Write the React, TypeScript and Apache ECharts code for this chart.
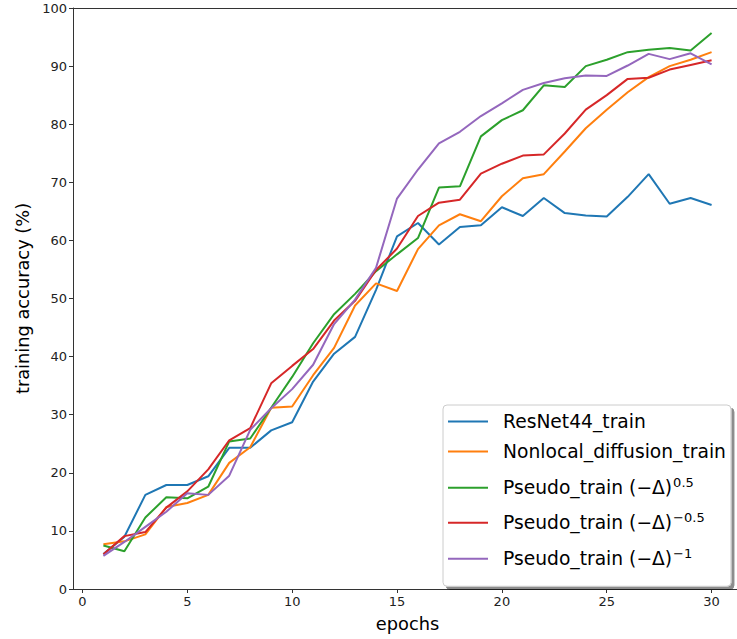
import React, { useEffect, useRef } from "react";
import * as echarts from "echarts";

const epochs = [1, 2, 3, 4, 5, 6, 7, 8, 9, 10, 11, 12, 13, 14, 15, 16, 17, 18, 19, 20, 21, 22, 23, 24, 25, 26, 27, 28, 29, 30];
const resnetTrain = [6.0, 9.0, 16.2, 17.9, 17.9, 19.4, 24.3, 24.3, 27.3, 28.7, 35.7, 40.5, 43.4, 51.5, 60.7, 63.0, 59.3, 62.3, 62.6, 65.7, 64.2, 67.3, 64.7, 64.3, 64.1, 67.5, 71.4, 66.3, 67.3, 66.1];
const nonlocalTrain = [7.7, 8.2, 9.4, 14.1, 14.8, 16.2, 21.7, 24.4, 31.2, 31.4, 36.8, 41.5, 48.8, 52.6, 51.3, 58.5, 62.6, 64.5, 63.3, 67.6, 70.7, 71.4, 75.3, 79.3, 82.5, 85.5, 88.1, 90.0, 91.1, 92.4];
const pseudoP05 = [7.5, 6.5, 12.3, 15.8, 15.6, 17.6, 25.4, 25.9, 31.2, 36.5, 42.3, 47.3, 50.8, 54.7, 57.6, 60.4, 69.1, 69.3, 77.9, 80.7, 82.4, 86.7, 86.4, 90.0, 91.1, 92.4, 92.8, 93.1, 92.7, 95.7];
const pseudoM05 = [6.0, 9.1, 9.8, 14.0, 16.8, 20.6, 25.6, 27.7, 35.4, 38.4, 41.3, 46.2, 49.6, 54.9, 58.6, 64.2, 66.5, 67.0, 71.5, 73.2, 74.6, 74.8, 78.4, 82.5, 85.0, 87.8, 88.0, 89.4, 90.2, 91.0];
const pseudoM1 = [5.7, 8.1, 10.7, 13.3, 16.5, 16.2, 19.5, 27.4, 31.1, 34.4, 38.6, 45.6, 49.8, 55.3, 67.2, 72.2, 76.7, 78.7, 81.4, 83.6, 85.9, 87.1, 87.9, 88.4, 88.3, 90.1, 92.1, 91.2, 92.2, 90.3];

const xTicks = [0, 5, 10, 15, 20, 25, 30];
const seriesNames = [
  "ResNet44_train",
  "Nonlocal_diffusion_train",
  "Pseudo_train (−Δ)^0.5",
  "Pseudo_train (−Δ)^−0.5",
  "Pseudo_train (−Δ)^−1",
];
const seriesValues = [resnetTrain, nonlocalTrain, pseudoP05, pseudoM05, pseudoM1];
const colors = ["#1f77b4", "#ff7f0e", "#2ca02c", "#d62728", "#9467bd"];

const FONT = "DejaVu Sans";

export default function App() {
  const ref = useRef<HTMLDivElement>(null);
  useEffect(() => {
    if (!ref.current) return;
    const chart = echarts.init(ref.current, null, { renderer: "svg" });
    const legendFmt: Record<string, string> = {
      [seriesNames[0]]: "{a1|ResNet44_train}",
      [seriesNames[1]]: "{a2|Nonlocal_diffusion_train}",
      [seriesNames[2]]: "{c3|Pseudo_train (−Δ)}{s3|0.5}",
      [seriesNames[3]]: "{c4|Pseudo_train (−Δ)}{s4|−0.5}",
      [seriesNames[4]]: "{c5|Pseudo_train (−Δ)}{s5|−1}",
    };
    const LF = 18.7;
    const main = (lh: number) => ({
      fontSize: LF,
      fontFamily: FONT,
      color: "#000",
      lineHeight: lh,
      verticalAlign: "middle",
      padding: [0, 0, 0, 10],
    });
    const sup = (p: number) => ({
      fontSize: 13,
      fontFamily: FONT,
      color: "#000",
      lineHeight: 15,
      verticalAlign: "top",
      padding: [p, 0, 0, 1],
    });
    const axisLineStyle = { color: "#333", width: 1 };
    chart.setOption({
      animation: false,
      backgroundColor: "#fff",
      textStyle: { fontFamily: FONT },
      grid: {
        left: 73,
        top: 8,
        right: 3,
        bottom: 50,
        show: false,
      },
      xAxis: [
        {
          type: "value",
          min: -0.45,
          max: 31.45,
          name: "epochs",
          nameLocation: "middle",
          nameGap: 25,
          nameTextStyle: { fontSize: 17.8, color: "#000", fontFamily: FONT },
          axisLine: { show: true, onZero: false, lineStyle: axisLineStyle },
          axisTick: { show: true, inside: false, length: 4, lineStyle: { color: "#333" }, customValues: xTicks },
          axisLabel: { show: true, fontSize: 13, color: "#222", margin: 6, fontFamily: FONT, customValues: xTicks },
          splitLine: { show: false },
        },
        {
          type: "value",
          position: "top",
          min: -0.45,
          max: 31.45,
          axisLine: { show: true, onZero: false, lineStyle: axisLineStyle },
          axisTick: { show: false },
          axisLabel: { show: false },
          splitLine: { show: false },
        },
      ],
      yAxis: {
        type: "value",
        min: 0,
        max: 100,
        interval: 10,
        name: "training accuracy (%)",
        nameLocation: "middle",
        nameGap: 40,
        nameTextStyle: { fontSize: 17.8, color: "#000", fontFamily: FONT },
        axisLine: { show: true, onZero: false, lineStyle: axisLineStyle },
        axisTick: { show: true, inside: false, length: 4, lineStyle: { color: "#333" } },
        axisLabel: { show: true, fontSize: 13, color: "#222", margin: 6, fontFamily: FONT },
        splitLine: { show: false },
      },
      legend: {
        orient: "vertical",
        left: 443,
        top: 405,
        padding: [7, 5, 18, 5],
        itemGap: 11,
        itemWidth: 40,
        itemHeight: 2,
        icon: "rect",
        backgroundColor: "#fff",
        borderColor: "#cccccc",
        borderWidth: 1,
        borderRadius: 4,
        shadowColor: "rgba(0,0,0,0.45)",
        shadowOffsetX: 3,
        shadowOffsetY: 3,
        shadowBlur: 1,
        data: seriesNames,
        formatter: (name: string) => legendFmt[name] || name,
        textStyle: {
          fontSize: LF,
          fontFamily: FONT,
          color: "#000",
          rich: {
            a1: main(23),
            a2: main(23),
            c3: main(31.5),
            s3: sup(3.75),
            c4: main(29),
            s4: sup(2.5),
            c5: main(31),
            s5: sup(3.5),
          },
        },
      },
      series: seriesNames.map((name, i) => ({
        name,
        type: "line",
        xAxisIndex: 0,
        data: epochs.map((e, j) => [e, seriesValues[i][j]]),
        showSymbol: false,
        symbol: "none",
        color: colors[i],
        lineStyle: { color: colors[i], width: 2 },
        itemStyle: { color: colors[i] },
        z: 2 + i,
      })),
    });
    return () => chart.dispose();
  }, []);
  return (
    <div
      ref={ref}
      style={{ position: "fixed", left: 0, top: 0, width: 745, height: 639 }}
    />
  );
}
